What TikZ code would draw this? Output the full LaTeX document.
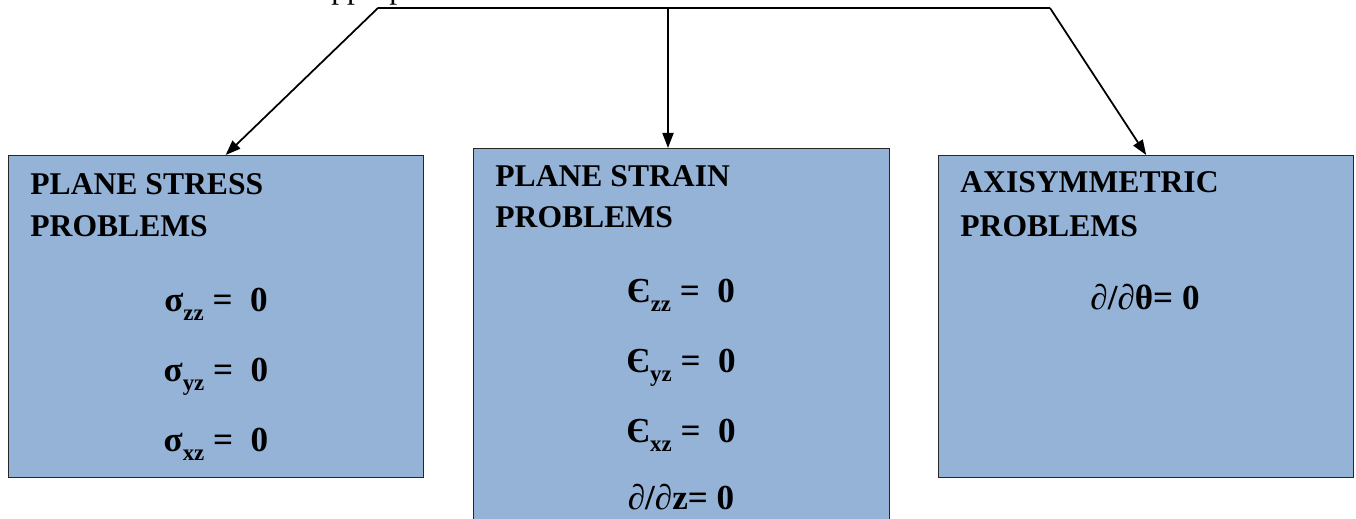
\documentclass[tikz,border=0pt]{standalone}
\usepackage{fontspec}
\setmainfont{Liberation Serif}
\usetikzlibrary{arrows.meta,positioning}
\definecolor{boxblue}{HTML}{95B3D7}
\definecolor{boxedge}{HTML}{262626}
\newcommand{\lowsub}[1]{\raisebox{-0.5ex}{\fontsize{13}{13}\selectfont #1}}
\newcommand{\pdv}{{\normalfont\itshape ∂}}
\tikzset{
  cbox/.style={rectangle,draw=boxedge,fill=boxblue,line width=0.8pt,
               anchor=north west,minimum width=8.3cm,inner sep=0pt},
  ttl/.style={font=\fontsize{18}{18}\selectfont\bfseries,anchor=base west,
              inner sep=0pt},
  eqn/.style={font=\fontsize{20}{20}\selectfont\bfseries,anchor=base,
              inner sep=0pt},
  conn/.style={line width=1pt,black},
  arr/.style={-{Triangle[length=0.3cm,width=0.22cm]},line width=1pt,black},
}

\begin{document}
\begin{tikzpicture}[x=0.02cm,y=-0.02cm]
  \useasboundingbox (0,0) rectangle (1356,519);

  % heading (only its lower edge is in view)
  \node[font=\fontsize{18}{18}\selectfont,anchor=base west,inner sep=0pt]
    (hd) at (317,-1.5) {appropriate};

  % the three problem boxes
  \node[cbox,minimum height=6.44cm] (ps) at (8,155) {};
  \node[cbox,minimum width=8.32cm,minimum height=8cm] (pn) at (473,148) {};
  \node[cbox,minimum height=6.44cm] (ax) at (938,155) {};

  % titles
  \node[ttl] (psa) at (30,195) {PLANE STRESS};
  \node[ttl] (psb) at ([yshift=-0.84cm]psa.base west) {PROBLEMS};
  \node[ttl] (pna) at (495,187) {PLANE STRAIN};
  \node[ttl] (pnb) at ([yshift=-0.82cm]pna.base west) {PROBLEMS};
  \node[ttl] (axa) at (960,193) {AXISYMMETRIC};
  \node[ttl] (axb) at ([yshift=-0.88cm]axa.base west) {PROBLEMS};

  % plane stress
  \node[eqn] (sg1) at (216,312) {σ\lowsub{zz} =\hspace{0.5em}0};
  \node[eqn] (sg2) at (216,382) {σ\lowsub{yz} =\hspace{0.5em}0};
  \node[eqn] (sg3) at (216,452) {σ\lowsub{xz} =\hspace{0.5em}0};

  % plane strain
  \node[eqn] (ep1) at (681,303) {Є\lowsub{zz} =\hspace{0.5em}0};
  \node[eqn] (ep2) at (681,373) {Є\lowsub{yz} =\hspace{0.5em}0};
  \node[eqn] (ep3) at (681,443) {Є\lowsub{xz} =\hspace{0.5em}0};
  \node[eqn] (ep4) at (681,510) {\pdv/\pdv{}z= 0};

  % axisymmetric
  \node[eqn] (th1) at (1145,310) {\pdv/\pdv{}θ= 0};

  % connectors
  \coordinate (tl) at (378,8);
  \coordinate (tm) at (668,8);
  \coordinate (tr) at (1050,8);
  \draw[conn] (tl) -- (tr);
  \draw[arr] (tl) -- ([xshift=0.19cm]ps.north);
  \draw[arr] (tm) -- (tm |- pn.north);
  \draw[arr] (tr) -- (ax.north);
\end{tikzpicture}
\end{document}
